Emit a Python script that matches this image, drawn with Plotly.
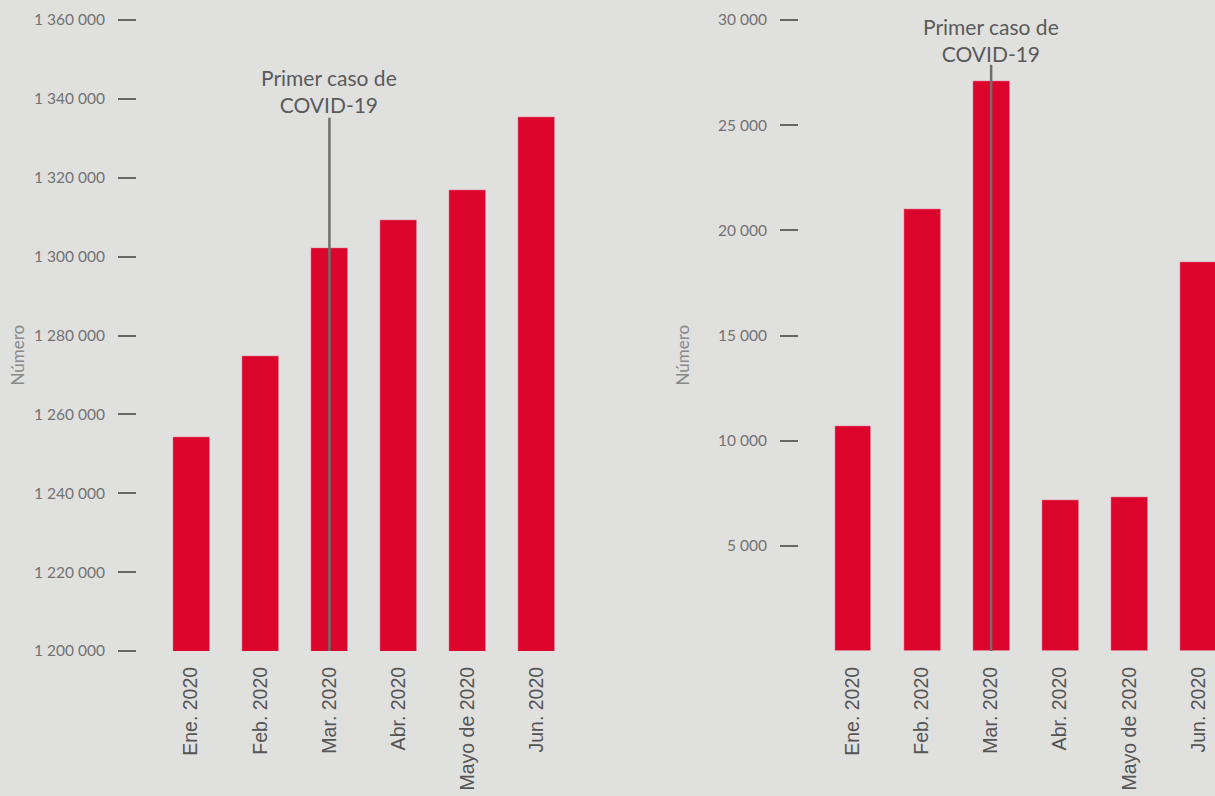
import plotly.graph_objects as go

# Monthly totals, January–June 2020
months = ["Ene. 2020", "Feb. 2020", "Mar. 2020", "Abr. 2020", "Mayo de 2020", "Jun. 2020"]
total_left = [1254300, 1274900, 1302300, 1309400, 1316800, 1335300]
total_right = [10700, 21000, 27100, 7200, 7300, 18500]

left_ticks = [1200000, 1220000, 1240000, 1260000, 1280000, 1300000, 1320000, 1340000, 1360000]
right_ticks = [5000, 10000, 15000, 20000, 25000, 30000]

covid_month = "Mar. 2020"
covid_text = "Primer caso de<br>COVID-19"

W, H = 1215, 796
BG = "#e0e0df"
RED = "#dc052c"
GREY_LINE = "#6e6e6e"

idx = list(range(len(months)))

fig = go.Figure()
fig.add_trace(go.Bar(x=idx, y=total_left, marker_color=RED, width=0.535,
                     xaxis="x", yaxis="y", showlegend=False))
fig.add_trace(go.Bar(x=idx, y=total_right, marker_color=RED, width=0.535,
                     xaxis="x2", yaxis="y2", showlegend=False))

xcommon = dict(
    tickmode="array", tickvals=idx, ticktext=months, tickangle=-90,
    tickfont=dict(family="Liberation Sans, Arial, sans-serif", size=19.5, color="#555555"),
    showgrid=False, zeroline=False, showline=False, ticks="",
    automargin=False, ticklabelstandoff=11, fixedrange=True,
)
ycommon = dict(
    tickformat=",d", ticks="outside", ticklen=18, tickwidth=1.5, tickcolor="#666666",
    tickfont=dict(family="Lato, Open Sans, sans-serif", size=15.5, color="#727272"),
    showgrid=False, zeroline=False, showline=False, automargin=False,
    ticklabelstandoff=10, fixedrange=True,
)

fig.update_layout(
    width=W, height=H,
    margin=dict(l=0, r=0, t=20, b=145),
    paper_bgcolor=BG, plot_bgcolor=BG,
    separators=", ",
    bargap=0,
    xaxis=dict(domain=[137 / W, 600 / W], range=[-0.782, 5.912], anchor="y", **xcommon),
    yaxis=dict(domain=[0, 1], range=[1200000, 1360000], tickvals=left_ticks,
               anchor="x", **ycommon),
    xaxis2=dict(domain=[799 / W, 1.0], range=[-0.782, 5.242], anchor="y2", **xcommon),
    yaxis2=dict(domain=[0, 1], range=[0, 30000], tickvals=right_ticks,
                anchor="x2", **ycommon),
)

covid_i = months.index(covid_month)

# Vertical marker for the first COVID-19 case
fig.add_shape(type="line", xref="x", yref="y domain", x0=covid_i, x1=covid_i,
              y0=0, y1=0.845, line=dict(color=GREY_LINE, width=2.5))
fig.add_shape(type="line", xref="x2", yref="y2 domain", x0=covid_i, x1=covid_i,
              y0=0, y1=0.929, line=dict(color=GREY_LINE, width=2.5))

ann_font = dict(family="Lato, Open Sans, sans-serif", size=21, color="#5a5a5a")
fig.add_annotation(text=covid_text, xref="x", yref="paper", x=covid_i, y=0.888,
                   xanchor="center", yanchor="middle", showarrow=False, font=ann_font)
fig.add_annotation(text=covid_text, xref="x2", yref="paper", x=covid_i, y=0.968,
                   xanchor="center", yanchor="middle", showarrow=False, font=ann_font)

# Axis titles
title_font = dict(family="Lato, Open Sans, sans-serif", size=17, color="#8a8a8a")
for px in (17.5, 682.5):
    fig.add_annotation(text="Número", xref="paper", yref="paper", x=px / W, y=0.469,
                       xanchor="center", yanchor="middle", textangle=-90,
                       showarrow=False, font=title_font)

fig.write_html("out.html")
